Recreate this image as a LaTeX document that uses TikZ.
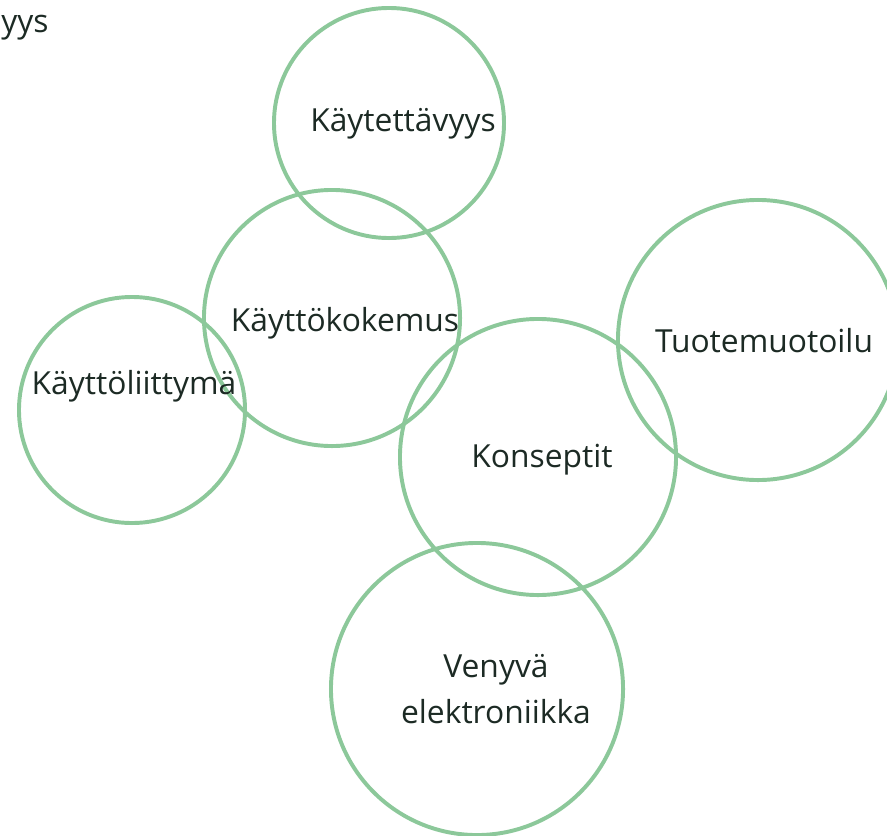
\documentclass[tikz,border=0pt]{standalone}
\usepackage{fontspec}
\setmainfont{Open Sans}
\definecolor{ringgreen}{HTML}{8CC89A}
\definecolor{wordgray}{HTML}{1C2A24}
\tikzstyle{ring} = [circle, draw=ringgreen, line width=2.8pt, inner sep=0pt]
\tikzstyle{word} = [text=wordgray, inner sep=0pt, align=center, font=\fontsize{22.6}{33}\selectfont]

\begin{document}
\begin{tikzpicture}[x=0.025cm, y=-0.025cm]
        \useasboundingbox (0,0) rectangle (887,835);
        % circles
        \node (kaytettavyys) at (389,123) [ring, minimum size=5.75cm] {};
        \node (kokemus) at (332,318) [ring, minimum size=6.4cm] {};
        \node (liittyma) at (132,410) [ring, minimum size=5.65cm] {};
        \node (konseptit) at (538,457) [ring, minimum size=6.9cm] {};
        \node (muotoilu) at (758,340) [ring, minimum size=7.0cm] {};
        \node (venyva) at (477,689) [ring, minimum size=7.3cm] {};
        % texts
        \node (tkaytettavyys) at (403,124) [word] {Käytettävyys};
        \node (tkokemus) at (345,323) [word] {Käyttökokemus};
        \node (tliittyma) at (134,386) [word] {Käyttöliittymä};
        \node (tkonseptit) at (542,460) [word] {Konseptit};
        \node (tmuotoilu) at (764,341) [word] {Tuotemuotoilu};
        \node (tvenyva) at (496,689) [word] {Venyvä\\elektroniikka};
        \node (tyys) at (1,28) [word, anchor=west] {yys};
\end{tikzpicture}
\end{document}
